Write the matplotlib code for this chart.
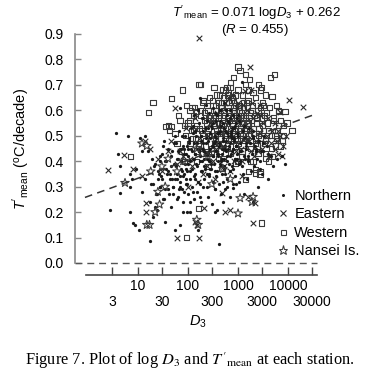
import matplotlib
matplotlib.use("Agg")
import matplotlib.pyplot as plt
from matplotlib.lines import Line2D
import numpy as np

plt.rcParams['font.family'] = 'Liberation Sans'
plt.rcParams['mathtext.fontset'] = 'custom'
plt.rcParams['mathtext.rm'] = 'Liberation Sans'
plt.rcParams['mathtext.it'] = 'Liberation Sans:italic'

# --- data (D3, T'mean) ---
north_d3 = [2.75, 3.6, 4.0, 4.4, 4.4, 6.3, 6.9, 7.0, 7.5, 8.0,
            8.6, 10.5, 6.9, 9.0, 11, 12, 14, 17, 17, 20,
            22, 24, 27, 35, 55, 69, 80, 95, 110, 80,
            110, 160, 345, 380, 420, 69, 170, 1200, 800, 2000,
            7600, 8700, 14, 16, 19, 12, 25, 28, 30, 20,
            24, 33, 40, 45, 50, 38, 45, 55, 60, 60,
            70, 75, 85, 90, 100, 120, 130, 150, 180, 200,
            250, 300, 350, 450, 500, 600, 700, 900, 1300, 1500,
            2500, 3000, 4000, 5000, 6000,
            45, 52, 58, 63, 66, 72, 78, 82, 88, 92,
            98, 105, 110, 115, 120, 126, 132, 138, 145, 150,
            158, 165, 170, 178, 185, 192, 200, 210, 218, 225,
            235, 242, 250, 262, 270, 280, 290, 300, 315, 325,
            340, 350, 365, 380, 395, 410, 430, 450, 470, 490,
            510, 530, 560, 590, 620, 650, 680, 720, 760, 800,
            850, 900, 950, 1000, 1100, 1200, 1300, 1450, 1600, 1800,
            2000, 2300, 2700, 3200, 4000,
            60, 75, 95, 125, 140, 175, 205, 240, 275, 320,
            360, 420, 480, 540, 610, 700, 780, 880, 1050, 1250,
            130, 160, 190, 230, 260, 310, 370, 440, 520, 600,
            36, 40, 48, 55, 30, 33, 26, 22, 42, 28,
            18, 21, 23, 27, 29, 32, 34, 37, 39, 43,
            47, 50, 53, 57, 61, 64, 68, 71, 74, 77,
            80, 84, 87, 90, 94, 97, 101, 104, 108, 112,
            117, 122, 128, 134, 141, 147, 153, 161, 168, 176,
            183, 190, 197, 205, 213, 222, 231, 240, 249, 258,
            268, 278, 288, 298, 310, 322, 334, 347, 360, 374,
            388, 403, 418, 434, 451, 468, 486, 505, 525, 545,
            566, 588, 611, 635, 660, 686, 713, 741, 770, 800,
            830, 860, 895, 930, 970, 1010, 1060, 1110, 1170, 1230,
            1300, 1380, 1460, 1550, 1650, 1750, 1870, 2000, 2200, 2400,
            2600, 2900, 3300, 3800, 4500,
            35, 70, 140, 280, 560, 1120, 2240, 50, 100, 200,
            400, 800, 1600, 3200, 25, 90, 180, 360, 720, 1440,
            65, 130, 260, 520, 1040, 2080, 31, 62, 124, 248,
            496, 992, 1984, 85, 170, 340, 680, 1360, 2720, 44,
            105, 135, 165, 195, 225, 255, 285, 315, 345, 375,
            405, 435, 465, 495, 525, 555, 585, 615, 645, 675,
            705, 735, 765, 795, 825, 855, 885, 915, 945, 975]
north_t = [0.21, 0.51, 0.43, 0.38, 0.275, 0.50, 0.20, 0.35, 0.33, 0.157,
           0.15, 0.13, 0.30, 0.37, 0.49, 0.28, 0.33, 0.087, 0.24, 0.18,
           0.22, 0.21, 0.30, 0.16, 0.13, 0.15, 0.20, 0.20, 0.20, 0.24,
           0.24, 0.13, 0.20, 0.21, 0.075, 0.61, 0.65, 0.71, 0.295, 0.24,
           0.42, 0.39, 0.50, 0.44, 0.41, 0.44, 0.36, 0.40, 0.33, 0.31,
           0.27, 0.25, 0.29, 0.22, 0.27, 0.35, 0.38, 0.33, 0.41, 0.25,
           0.30, 0.36, 0.28, 0.33, 0.27, 0.30, 0.25, 0.28, 0.24, 0.30,
           0.26, 0.23, 0.29, 0.27, 0.24, 0.30, 0.26, 0.31, 0.27, 0.33,
           0.30, 0.35, 0.33, 0.38, 0.41,
           0.42, 0.47, 0.38, 0.44, 0.52, 0.40, 0.46, 0.35, 0.50, 0.43,
           0.39, 0.48, 0.36, 0.53, 0.44, 0.41, 0.47, 0.33, 0.50, 0.38,
           0.45, 0.55, 0.42, 0.36, 0.48, 0.40, 0.52, 0.44, 0.37, 0.47,
           0.41, 0.56, 0.43, 0.34, 0.49, 0.45, 0.39, 0.53, 0.42, 0.47,
           0.36, 0.50, 0.44, 0.58, 0.40, 0.46, 0.52, 0.38, 0.43, 0.55,
           0.48, 0.41, 0.35, 0.51, 0.45, 0.39, 0.57, 0.43, 0.49, 0.37,
           0.53, 0.46, 0.41, 0.50, 0.44, 0.38, 0.54, 0.47, 0.42, 0.36,
           0.49, 0.45, 0.40, 0.47, 0.43,
           0.33, 0.29, 0.31, 0.28, 0.35, 0.31, 0.33, 0.30, 0.37, 0.32,
           0.34, 0.31, 0.35, 0.29, 0.33, 0.36, 0.31, 0.34, 0.32, 0.35,
           0.58, 0.60, 0.57, 0.62, 0.59, 0.61, 0.56, 0.60, 0.63, 0.58,
           0.37, 0.45, 0.33, 0.50, 0.43, 0.48, 0.35, 0.39, 0.27, 0.30,
           0.31, 0.38, 0.27, 0.42, 0.34, 0.46, 0.29, 0.40, 0.36, 0.33,
           0.44, 0.30, 0.39, 0.47, 0.35, 0.41, 0.32, 0.45, 0.37, 0.50,
           0.34, 0.43, 0.39, 0.31, 0.46, 0.36, 0.42, 0.49, 0.33, 0.40,
           0.45, 0.37, 0.51, 0.34, 0.43, 0.39, 0.47, 0.32, 0.44, 0.40,
           0.50, 0.36, 0.45, 0.41, 0.38, 0.53, 0.43, 0.35, 0.48, 0.40,
           0.44, 0.51, 0.37, 0.46, 0.42, 0.55, 0.39, 0.48, 0.44, 0.36,
           0.51, 0.42, 0.47, 0.39, 0.54, 0.45, 0.41, 0.49, 0.37, 0.52,
           0.44, 0.48, 0.40, 0.56, 0.46, 0.42, 0.50, 0.38, 0.53, 0.45,
           0.48, 0.41, 0.55, 0.46, 0.43, 0.51, 0.39, 0.47, 0.44, 0.52,
           0.42, 0.49, 0.45, 0.40, 0.53, 0.47, 0.43, 0.50, 0.46, 0.41,
           0.48, 0.44, 0.50, 0.46, 0.42,
           0.40, 0.34, 0.43, 0.40, 0.46, 0.40, 0.44, 0.30, 0.45, 0.47,
           0.43, 0.45, 0.41, 0.44, 0.33, 0.37, 0.50, 0.49, 0.51, 0.46,
           0.29, 0.41, 0.35, 0.38, 0.56, 0.38, 0.25, 0.26, 0.54, 0.53,
           0.32, 0.58, 0.52, 0.45, 0.26, 0.29, 0.60, 0.41, 0.37, 0.35,
           0.47, 0.52, 0.44, 0.57, 0.49, 0.41, 0.54, 0.46, 0.59, 0.43,
           0.51, 0.56, 0.40, 0.48, 0.53, 0.45, 0.60, 0.42, 0.50, 0.55,
           0.47, 0.52, 0.44, 0.58, 0.49, 0.41, 0.54, 0.46, 0.51, 0.57]

west_d3 = [16, 20, 46, 79, 166, 120, 150, 35, 40, 46,
           42, 55, 69, 85, 7, 180, 1000, 1100, 800, 4400,
           5300, 600, 690, 620, 3000, 4800, 5900, 6600, 8700, 9500,
           12000, 2200, 2750, 1400, 2200, 3000, 95, 160, 2750, 110,
           90, 100, 110, 120, 130, 140, 150, 165, 180, 195,
           210, 225, 240, 255, 270, 290, 305, 320, 340, 360,
           380, 400, 420, 445, 470, 500, 520, 550, 580, 610,
           640, 680, 720, 760, 800, 850, 900, 960, 1020, 1080,
           1150, 1220, 1300, 1400, 1500, 1600, 1750, 1900, 2050, 2200,
           2400, 2600, 2850, 3100, 3400, 3700, 4100, 4600, 5200, 5800,
           6500, 7200, 8000, 3500, 2500, 1800, 1200, 700, 400, 200,
           150, 260, 480, 900, 1600, 650, 1000, 1400, 2000, 500,
           330, 270, 1700, 2600, 3500, 60, 75, 65, 95, 85,
           110, 125, 135, 145, 160, 175, 190, 205, 220, 235,
           250, 265, 280, 300, 315, 335, 355, 375, 395, 415,
           440, 460, 490, 515, 545, 570, 600, 630, 665, 700,
           735, 775, 815, 860, 905, 950, 1000, 1050, 1110, 1170,
           1230, 1290, 1360, 1430, 1500, 1580, 1660, 1750, 1840, 1940,
           2040, 2150, 2260, 2380, 2500, 2630, 2770, 2920, 3070, 3230,
           3400, 3600, 3900, 4300, 4700, 5100, 5600, 6200, 7000, 7800,
           300, 600, 1200, 2400, 4800, 150, 450, 900, 1800, 3600,
           200, 400, 800, 1600, 3200, 6400, 250, 500, 1000, 2000,
           4000, 8000, 350, 700, 1400, 2800, 5500, 130, 260, 520,
           170, 215, 260, 310, 360, 410, 460, 510, 560, 610,
           660, 710, 760, 810, 860, 910, 960, 1010, 1060, 1110,
           1160, 1210, 1260, 1310, 1360, 1410, 1460, 1510, 1560, 1610]
west_t = [0.59, 0.63, 0.645, 0.68, 0.70, 0.61, 0.595, 0.535, 0.54, 0.535,
          0.52, 0.51, 0.56, 0.54, 0.42, 0.70, 0.77, 0.757, 0.73, 0.73,
          0.74, 0.69, 0.69, 0.66, 0.69, 0.655, 0.62, 0.595, 0.595, 0.55,
          0.52, 0.366, 0.36, 0.327, 0.354, 0.157, 0.10, 0.215, 0.35, 0.60,
          0.50, 0.55, 0.47, 0.52, 0.58, 0.49, 0.54, 0.46, 0.60, 0.51,
          0.56, 0.48, 0.62, 0.53, 0.58, 0.50, 0.64, 0.55, 0.47, 0.60,
          0.52, 0.57, 0.66, 0.49, 0.61, 0.54, 0.58, 0.51, 0.63, 0.56,
          0.48, 0.60, 0.53, 0.65, 0.57, 0.50, 0.62, 0.55, 0.47, 0.60,
          0.53, 0.66, 0.58, 0.51, 0.63, 0.55, 0.48, 0.60, 0.53, 0.65,
          0.57, 0.50, 0.61, 0.54, 0.47, 0.59, 0.52, 0.45, 0.56, 0.49,
          0.54, 0.46, 0.50, 0.41, 0.43, 0.40, 0.42, 0.43, 0.41, 0.43,
          0.40, 0.38, 0.37, 0.39, 0.36, 0.67, 0.68, 0.70, 0.67, 0.68,
          0.69, 0.65, 0.72, 0.70, 0.66, 0.47, 0.44, 0.58, 0.62, 0.40,
          0.56, 0.49, 0.61, 0.53, 0.47, 0.58, 0.52, 0.64, 0.46, 0.55,
          0.60, 0.50, 0.57, 0.45, 0.62, 0.54, 0.49, 0.66, 0.51, 0.58,
          0.53, 0.63, 0.47, 0.59, 0.55, 0.68, 0.50, 0.61, 0.56, 0.48,
          0.64, 0.54, 0.59, 0.51, 0.66, 0.57, 0.52, 0.62, 0.49, 0.58,
          0.55, 0.61, 0.48, 0.57, 0.53, 0.64, 0.50, 0.59, 0.56, 0.62,
          0.51, 0.58, 0.47, 0.55, 0.60, 0.53, 0.49, 0.57, 0.63, 0.52,
          0.58, 0.48, 0.55, 0.61, 0.50, 0.57, 0.46, 0.52, 0.56, 0.48,
          0.44, 0.45, 0.44, 0.46, 0.42, 0.44, 0.44, 0.46, 0.45, 0.43,
          0.63, 0.63, 0.64, 0.68, 0.62, 0.60, 0.43, 0.41, 0.40, 0.40,
          0.40, 0.54, 0.57, 0.71, 0.74, 0.68, 0.50, 0.52, 0.57, 0.65,
          0.53, 0.59, 0.50, 0.56, 0.62, 0.47, 0.54, 0.60, 0.51, 0.57,
          0.63, 0.49, 0.55, 0.61, 0.52, 0.58, 0.48, 0.56, 0.62, 0.53,
          0.59, 0.50, 0.57, 0.63, 0.52, 0.58, 0.49, 0.55, 0.61, 0.54]

east_d3 = [166, 55, 2.5, 5.2, 8, 12, 14, 17, 14.5, 14.5,
           60, 166, 140, 150, 210, 480, 550, 680, 1600, 2200,
           2000, 1740, 1350, 1800, 10500, 20000, 6900, 7000, 9000, 6000,
           7600, 6300, 4500, 5500, 2500, 8000,
           80, 120, 180, 250, 320, 400, 500, 600, 750, 900,
           1100, 1300, 1500, 1700, 2000, 2300, 2700, 3200, 3800, 3000,
           200, 350, 700, 1200, 60, 100, 40, 25, 450, 1000,
           30, 45, 70, 90, 110, 140, 170, 220, 270, 330,
           380, 430, 520, 620, 800, 950, 1150, 1400, 1650, 1900,
           2100, 2400, 2800, 3300, 3900, 4700, 5600, 650, 850, 1250,
           160, 240, 360, 540, 810, 1220, 1830, 2750, 4100, 6200]
east_t = [0.886, 0.61, 0.366, 0.425, 0.37, 0.34, 0.48, 0.45, 0.235, 0.20,
          0.10, 0.10, 0.16, 0.15, 0.215, 0.275, 0.20, 0.21, 0.26, 0.236,
          0.157, 0.77, 0.675, 0.68, 0.64, 0.615, 0.595, 0.50, 0.50, 0.48,
          0.42, 0.43, 0.47, 0.45, 0.44, 0.46,
          0.42, 0.38, 0.45, 0.50, 0.40, 0.54, 0.46, 0.52, 0.58, 0.44,
          0.55, 0.49, 0.60, 0.52, 0.57, 0.48, 0.62, 0.55, 0.50, 0.45,
          0.35, 0.33, 0.36, 0.34, 0.39, 0.30, 0.44, 0.41, 0.60, 0.63,
          0.36, 0.48, 0.44, 0.53, 0.41, 0.57, 0.49, 0.43, 0.55, 0.47,
          0.59, 0.51, 0.38, 0.56, 0.50, 0.61, 0.45, 0.54, 0.48, 0.63,
          0.42, 0.59, 0.51, 0.47, 0.57, 0.52, 0.55, 0.65, 0.40, 0.62,
          0.32, 0.38, 0.45, 0.63, 0.66, 0.40, 0.44, 0.58, 0.42, 0.52]

nansei_d3 = [5.5, 12, 15, 15, 17, 22, 25, 30, 18, 40, 60, 80, 150, 160,
             1000, 1100, 27, 1900, 300, 500, 150, 250, 700, 35, 2000]
nansei_t = [0.315, 0.47, 0.46, 0.15, 0.15, 0.20, 0.28, 0.38, 0.36, 0.41, 0.36, 0.40, 0.17, 0.15,
            0.195, 0.255, 0.23, 0.24, 0.31, 0.37, 0.45, 0.42, 0.33, 0.30, 0.26]

# regression: T = 0.071 log D3 + 0.262
slope, intercept = 0.071, 0.262
fit_d3 = np.array([0.87, 33000])

upper_ticks = [10, 100, 1000, 10000]
lower_ticks = [3, 30, 300, 3000, 30000]
yticks = np.arange(0, 0.91, 0.1)

fig = plt.figure(figsize=(3.74, 3.82), dpi=100)
ax = fig.add_axes([75 / 374, 1 - 263 / 382, 245 / 374, 229 / 382])

mk = '#1a1a1a'
ax.scatter(west_d3, west_t, marker='s', s=14, facecolor='none', edgecolor='#3a3a3a', linewidth=0.8, clip_on=False)
ax.scatter(east_d3, east_t, marker='x', s=16, color='#2a2a2a', linewidth=0.8, clip_on=False)
ax.scatter(north_d3, north_t, marker='o', s=5.5, color=mk, linewidth=0, clip_on=False)
ax.scatter(nansei_d3, nansei_t, marker='*', s=42, facecolor='none', edgecolor='#3a3a3a', linewidth=0.75, clip_on=False)

ax.plot(fit_d3, slope * np.log10(fit_d3) + intercept, ls=(0, (5, 3.5)), color='#333333', lw=1.1)
ax.plot([0.55, 38000], [0, 0], ls=(0, (5, 3.5)), color='#555555', lw=1.0, clip_on=False)

ax.set_xscale('log')
ax.set_xlim(0.55, 43600)
ax.set_ylim(0, 0.9)

for s in ['top', 'right']:
    ax.spines[s].set_visible(False)
ax.spines['left'].set_color('#888888')
ax.spines['left'].set_linewidth(1.2)
ax.spines['left'].set_bounds(0, 0.9)
ax.spines['bottom'].set_position(('outward', 8.6))
ax.spines['bottom'].set_bounds(0.91, 38000)
ax.spines['bottom'].set_color('#444444')
ax.spines['bottom'].set_linewidth(1.2)

ax.set_xticks(upper_ticks)
ax.set_xticklabels([str(v) for v in upper_ticks], fontsize=10)
ax.set_xticks(lower_ticks, minor=True)
ax.set_xticklabels([str(v) for v in lower_ticks], minor=True, fontsize=10)
ax.tick_params(axis='x', which='major', direction='in', length=5.5, width=1.0, color='#444444', pad=3)
ax.tick_params(axis='x', which='minor', direction='in', length=5.5, width=1.0, color='#444444', pad=14.5)
ax.set_yticks(yticks)
ax.set_yticklabels(['%.1f' % v for v in yticks], fontsize=10)
ax.tick_params(axis='y', direction='in', length=4.5, width=1.0, color='#888888', pad=8)

ax.set_xlabel('$D_3$', fontsize=10.5, labelpad=3)
ax.set_ylabel(r"$T'_{\rm mean}$ ($\rm ^o$C/decade)", fontsize=10.5, labelpad=9)

fig.text(257 / 374, 1 - 13 / 382, r"$T'_{\rm mean}$ = 0.071 log$D_3$ + 0.262",
         ha='center', va='center', fontsize=9.5)
fig.text(255 / 374, 1 - 30 / 382, r"($R$ = 0.455)", ha='center', va='center', fontsize=9.5)

handles = [
    Line2D([], [], marker='o', ls='', ms=2.2, color=mk, mew=0),
    Line2D([], [], marker='x', ls='', ms=4, color='#2a2a2a', mew=0.8),
    Line2D([], [], marker='s', ls='', ms=3.6, mfc='none', mec='#3a3a3a', mew=0.8),
    Line2D([], [], marker='*', ls='', ms=6.5, mfc='none', mec='#3a3a3a', mew=0.75),
]
fig.legend(handles, ['Northern', 'Eastern', 'Western', 'Nansei Is.'],
           loc='upper left', bbox_to_anchor=(279 / 374, 1 - 189 / 382),
           frameon=False, fontsize=10.5, handlelength=0.6, handletextpad=0.45,
           labelspacing=0.3, borderpad=0, borderaxespad=0)

fig.text(190 / 374, 1 - 361 / 382,
         r"Figure 7. Plot of log $D_3$ and $T'_{\mathrm{mean}}$ at each station.",
         ha='center', va='center', fontsize=11.8, family='Liberation Serif',
         math_fontfamily='stix')

fig.savefig('out.png', dpi=100)
